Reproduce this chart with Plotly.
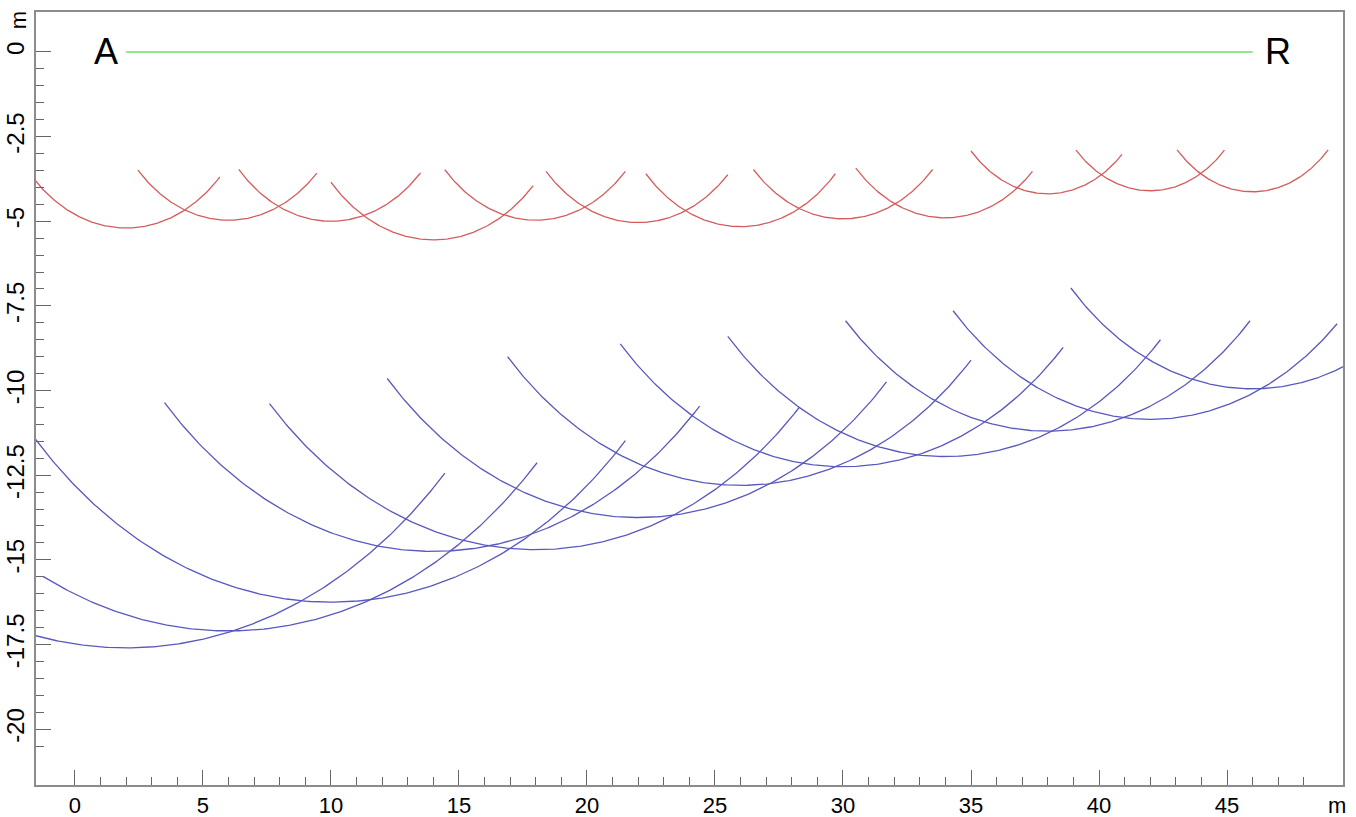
import numpy as np
import plotly.graph_objects as go

# ---- data ----
# shallow (red) arcs: centre on surface (x), radius, start x, end x
red_centers = [2, 6, 10, 14, 18, 22, 26, 30, 34, 38, 42, 46]
red_radii = [5.2, 4.97, 5.0, 5.55, 4.97, 5.04, 5.16, 4.93, 4.9, 4.19, 4.1, 4.13]
red_x_start = [-1.66, 2.46, 6.4, 10.0, 14.45, 18.4, 22.3, 26.5, 30.5, 35.0, 39.1, 43.05]
red_x_end = [5.66, 9.45, 13.5, 17.9, 21.5, 25.5, 29.7, 33.5, 37.4, 40.9, 44.9, 48.95]

# deep (blue) arcs
blue_centers = [2, 6, 10, 14, 18, 22, 26, 30, 34, 38, 42, 46]
blue_radii = [17.6, 17.1, 16.25, 14.75, 14.7, 13.75, 12.8, 12.25, 11.95, 11.2, 10.85, 9.95]
blue_x_start = [-1.6, -1.25, -1.6, 3.5, 7.6, 12.2, 16.9, 21.3, 25.5, 30.1, 34.3, 38.9]
blue_x_end = [14.45, 18.05, 21.5, 24.4, 28.3, 31.7, 35.0, 38.6, 42.4, 45.9, 49.3, 49.7]

# surface line A - R
surface_x = [2, 46]
surface_y = [0, 0]
end_labels = ["A", "R"]
end_label_x = [1.23, 47.0]

x_ticks = [0, 5, 10, 15, 20, 25, 30, 35, 40, 45]
y_ticks = [0, -2.5, -5, -7.5, -10, -12.5, -15, -17.5, -20]
y_tick_text = ["0", "-2.5", "-5", "-7.5", "-10", "-12.5", "-15", "-17.5", "-20"]

FONT = "Liberation Sans, Arial, sans-serif"


def arc(cx, r, x0, x1, n=200):
    xs = np.linspace(x0, x1, n)
    ys = -np.sqrt(np.clip(r * r - (xs - cx) ** 2, 0, None))
    return xs, ys


fig = go.Figure()

for cx, r, a, b in zip(blue_centers, blue_radii, blue_x_start, blue_x_end):
    xs, ys = arc(cx, r, a, b)
    fig.add_trace(go.Scatter(x=xs, y=ys, mode="lines",
                             line=dict(color="rgb(88,88,190)", width=1.3),
                             showlegend=False, hoverinfo="skip"))

for cx, r, a, b in zip(red_centers, red_radii, red_x_start, red_x_end):
    xs, ys = arc(cx, r, a, b)
    fig.add_trace(go.Scatter(x=xs, y=ys, mode="lines",
                             line=dict(color="rgb(212,92,92)", width=1.3),
                             showlegend=False, hoverinfo="skip"))

fig.add_trace(go.Scatter(x=surface_x, y=surface_y, mode="lines",
                         line=dict(color="rgb(110,220,110)", width=1.5),
                         showlegend=False, hoverinfo="skip"))

for t, xv in zip(end_labels, end_label_x):
    fig.add_annotation(x=xv, y=0, text=t, showarrow=False,
                       font=dict(family=FONT, size=36, color="black"),
                       xanchor="center", yanchor="middle")

# unit labels
fig.add_annotation(xref="paper", x=-0.0135, yref="y", y=0.95, text="m",
                   textangle=-90, showarrow=False,
                   font=dict(family=FONT, size=22, color="black"),
                   xanchor="center", yanchor="middle")
fig.add_annotation(xref="x", x=49.3, yref="paper", y=0, yshift=-6, text="m",
                   showarrow=False,
                   font=dict(family=FONT, size=22, color="black"),
                   xanchor="center", yanchor="top")

x_minor = [v for v in range(1, 49) if v % 5 != 0]
y_minor = [v for v in np.arange(-20.5, 0, 0.5) if abs(v / 2.5 - round(v / 2.5)) > 1e-6]

axis_common = dict(showgrid=False, zeroline=False, showline=True, automargin=False,
                   linecolor="#8c8c8c", linewidth=2, mirror=True,
                   ticks="inside", ticklen=15, tickwidth=1.3, tickcolor="#666")

fig.update_xaxes(range=[-1.52, 49.53], tickmode="array", tickvals=x_ticks,
                 tickfont=dict(family=FONT, size=22, color="black"),
                 minor=dict(tickmode="array", tickvals=x_minor, ticks="inside",
                            ticklen=8, tickwidth=1.3, tickcolor="#666"),
                 **axis_common)
fig.update_yaxes(range=[-21.65, 1.18], tickmode="array", tickvals=y_ticks,
                 ticktext=y_tick_text, tickangle=-90,
                 tickfont=dict(family=FONT, size=24, color="black"),
                 minor=dict(tickmode="array", tickvals=y_minor, ticks="inside",
                            ticklen=8, tickwidth=1.3, tickcolor="#666"),
                 **axis_common)

fig.update_layout(width=1356, height=817, template="none",
                  margin=dict(l=36, r=13, t=12, b=32),
                  paper_bgcolor="white", plot_bgcolor="white")

fig.write_html("out.html")
